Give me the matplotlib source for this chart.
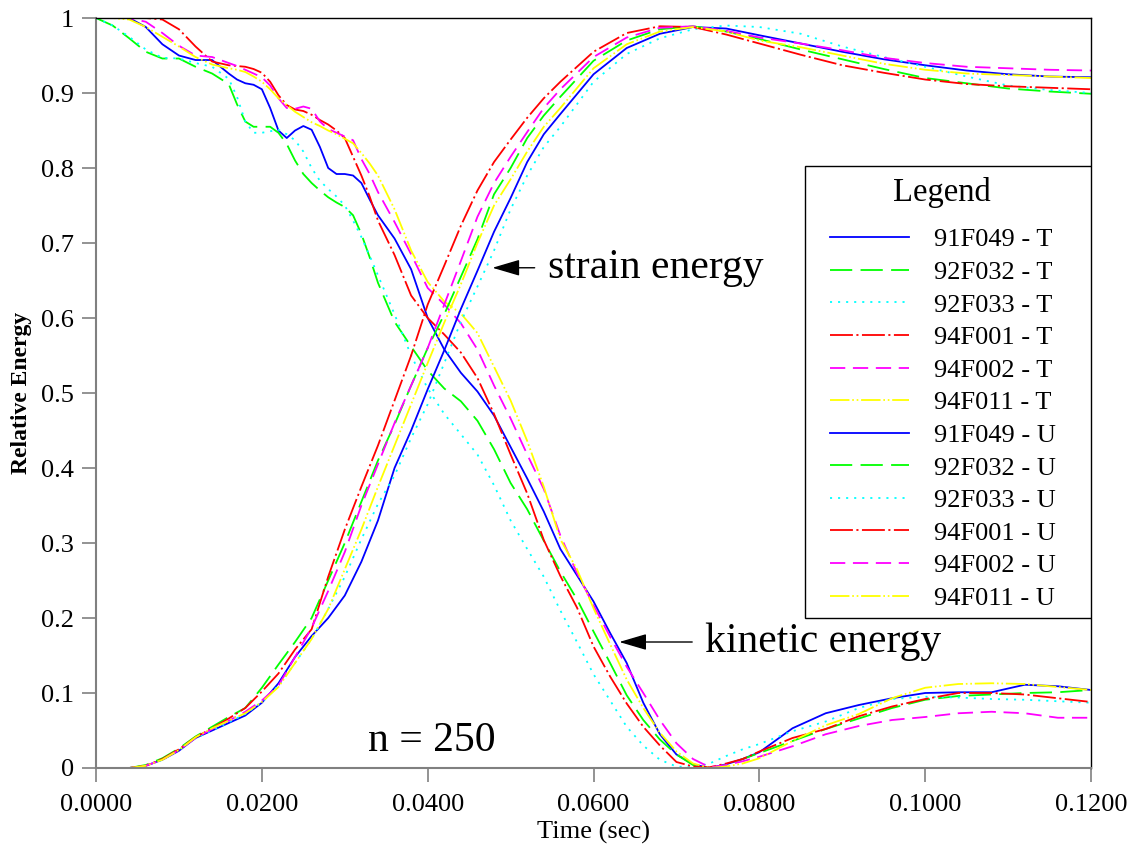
import matplotlib
matplotlib.use("Agg")
import matplotlib.pyplot as plt
from matplotlib.patches import Rectangle

# time grids (sec)
t_kin = [0, .002, .004, .006, .008, .010, .012, .014, .016, .017, .018, .019, .020,
         .021, .022, .023, .024, .025, .026, .027, .028, .029, .030, .031, .032, .033,
         .034, .036, .038, .040, .042, .044, .046, .048, .050, .052, .054, .056, .058,
         .060, .062, .064, .066, .068, .070, .072, .074, .076, .078, .080, .084, .088,
         .092, .096, .100, .104, .108, .112, .116, .120]
t_str = [0, .004, .006, .008, .010, .012, .014, .016, .018, .020, .022, .024, .026, .028,
         .030, .032, .034, .036, .038, .040, .042, .044, .046, .048, .050, .052, .054,
         .056, .060, .064, .068, .072, .076, .080, .085, .090, .095, .100, .105, .110,
         .115, .120]

# kinetic energy (T)
kin_91F049 = [1.0, 1.0, 1.0, .988, .965, .950, .944, .944, .926, .918, .913, .911, .905,
              .880, .850, .840, .850, .856, .851, .828, .800, .792, .792, .790, .780, .758,
              .737, .706, .665, .600, .558, .527, .502, .470, .428, .386, .342, .292, .257,
              .222, .180, .140, .087, .045, .018, .005, .000, .005, .012, .021, .053, .073,
              .084, .093, .100, .101, .101, .111, .109, .104]
kin_92F032 = [1.0, .990, .973, .955, .946, .946, .935, .926, .912, .885, .862, .855, .855,
              .855, .847, .832, .810, .792, .780, .770, .761, .754, .748, .737, .712, .681,
              .647, .595, .562, .530, .506, .489, .463, .425, .380, .345, .303, .262, .225,
              .182, .140, .097, .064, .038, .018, .004, .000, .004, .012, .020, .036, .052,
              .066, .080, .091, .096, .098, .100, .101, .104]
kin_92F033 = [1.0, .990, .975, .958, .947, .946, .940, .935, .919, .895, .862, .847, .847,
              .849, .851, .845, .837, .822, .800, .783, .772, .762, .750, .730, .708, .683,
              .657, .605, .550, .506, .472, .445, .418, .377, .330, .292, .255, .210, .168,
              .125, .090, .055, .030, .011, .002, .001, .006, .016, .025, .032, .049, .062,
              .080, .092, .095, .094, .092, .091, .089, .087]
kin_94F001 = [1.0, 1.0, 1.0, 1.0, .998, .985, .962, .942, .937, .936, .935, .932, .927,
              .915, .897, .884, .878, .876, .871, .864, .858, .850, .840, .815, .790, .762,
              .730, .684, .630, .600, .578, .554, .520, .472, .418, .366, .304, .256, .214,
              .162, .122, .086, .055, .030, .008, .002, .001, .006, .012, .022, .040, .052,
              .069, .082, .092, .100, .100, .098, .093, .088]
kin_94F002 = [1.0, 1.0, 1.0, .995, .980, .963, .950, .948, .940, .936, .931, .926, .921,
              .910, .893, .880, .879, .882, .879, .862, .852, .847, .842, .837, .812, .792,
              .768, .728, .685, .640, .618, .593, .558, .510, .466, .418, .372, .310, .260,
              .217, .175, .135, .100, .064, .033, .012, .001, .004, .009, .015, .029, .045,
              .056, .064, .068, .073, .075, .073, .067, .067]
kin_94F011 = [1.0, 1.0, .998, .988, .975, .962, .948, .938, .933, .931, .928, .922, .915,
              .905, .893, .884, .875, .868, .861, .856, .850, .845, .839, .833, .820, .806,
              .790, .745, .690, .648, .622, .606, .580, .535, .490, .436, .375, .305, .265,
              .213, .165, .118, .080, .047, .022, .006, .000, .002, .006, .013, .036, .057,
              .072, .093, .107, .112, .113, .112, .108, .104]

# strain energy (U)
str_91F049 = [0, 0, .003, .011, .023, .040, .050, .060, .070, .087, .113, .148, .176, .200,
              .230, .275, .330, .400, .450, .505, .557, .612, .663, .715, .760, .808, .845,
              .872, .925, .960, .979, .988, .986, .977, .966, .955, .945, .937, .930, .925,
              .922, .921]
str_92F032 = [0, 0, .004, .013, .026, .042, .055, .068, .080, .107, .138, .168, .200, .250,
              .300, .355, .410, .458, .510, .560, .605, .655, .705, .765, .800, .840, .870,
              .895, .943, .970, .985, .989, .982, .972, .958, .945, .932, .920, .913, .906,
              .902, .899]
str_92F033 = [0, 0, .003, .011, .024, .040, .050, .061, .072, .088, .110, .140, .172, .212,
              .255, .305, .352, .390, .440, .485, .540, .595, .642, .690, .745, .790, .828,
              .855, .915, .952, .973, .985, .990, .988, .979, .962, .948, .935, .922, .910,
              .904, .900]
str_94F001 = [0, 0, .003, .012, .025, .041, .053, .066, .080, .102, .126, .158, .185, .255,
              .318, .375, .430, .490, .550, .618, .670, .723, .770, .808, .838, .867, .893,
              .915, .955, .980, .989, .988, .978, .966, .951, .937, .927, .918, .912, .909,
              .907, .905]
str_94F002 = [0, 0, .003, .011, .024, .040, .052, .063, .075, .090, .110, .148, .187, .236,
              .288, .350, .405, .460, .510, .560, .618, .676, .735, .780, .815, .848, .880,
              .905, .948, .974, .987, .989, .983, .974, .966, .957, .947, .940, .935, .933,
              .931, .930]
str_94F011 = [0, 0, .003, .011, .024, .041, .053, .063, .073, .088, .108, .140, .172, .212,
              .265, .318, .375, .430, .485, .540, .594, .645, .700, .750, .785, .822, .855,
              .880, .933, .965, .982, .988, .982, .970, .961, .950, .939, .931, .926, .924,
              .922, .920]

specimens = ["91F049", "92F032", "92F033", "94F001", "94F002", "94F011"]
kin = [kin_91F049, kin_92F032, kin_92F033, kin_94F001, kin_94F002, kin_94F011]
strain = [str_91F049, str_92F032, str_92F033, str_94F001, str_94F002, str_94F011]

colors = ["#0000ff", "#00ff00", "#00ffff", "#ff0000", "#ff00ff", "#ffff00"]
styles = ["-", (0, (16, 6)), (0, (1.5, 4.3)), (0, (16.5, 2.5, 1.5, 2.5)),
          (0, (11, 5.5)), (0, (14, 2, 1.2, 2, 1.2, 2))]

plt.rcParams["font.family"] = ["Liberation Serif", "DejaVu Serif"]
plt.rcParams["lines.scale_dashes"] = False

fig = plt.figure(figsize=(11.3, 8.46), dpi=100)
ax = fig.add_axes([0.085, 0.0922, 0.8805, 0.8865])

for name, y, c, ls in zip(specimens, kin, colors, styles):
    ax.plot(t_kin, y, color=c, linestyle=ls, lw=1.3, label=f"{name} - T")
for name, y, c, ls in zip(specimens, strain, colors, styles):
    ax.plot(t_str, y, color=c, linestyle=ls, lw=1.3, label=f"{name} - U")

ax.set_xlim(0, 0.12)
ax.set_ylim(0, 1)
xt = [0, .02, .04, .06, .08, .10, .12]
ax.set_xticks(xt)
ax.set_xticklabels([f"{v:.4f}" for v in xt])
yt = [0, .1, .2, .3, .4, .5, .6, .7, .8, .9, 1]
ax.set_yticks(yt)
ax.set_yticklabels(["0"] + [f"{v:.1f}" for v in yt[1:-1]] + ["1"])
ax.tick_params(direction="out", length=10, width=1.2, color="#808080",
               labelsize=19, pad=6)
ax.tick_params(axis="x", pad=9)
for s in ("left", "bottom"):
    ax.spines[s].set_color("#808080")
    ax.spines[s].set_linewidth(1.5)
for s in ("top", "right"):
    ax.spines[s].set_color("black")
    ax.spines[s].set_linewidth(1.0)

ax.set_xlabel("Time (sec)", fontsize=19, labelpad=3)
ax.set_ylabel("Relative Energy", fontsize=17, fontweight="bold", labelpad=6)

arrow = dict(arrowstyle="-|>,head_length=0.85,head_width=0.25", color="black",
             lw=1.0, mutation_scale=20, shrinkA=0, shrinkB=0)
ax.annotate("", xy=(0.0478, 0.667), xytext=(0.0529, 0.667), arrowprops=arrow)
ax.text(0.0545, 0.667, "strain energy", fontsize=30, va="center", ha="left")
ax.annotate("", xy=(0.0631, 0.168), xytext=(0.0719, 0.168), arrowprops=arrow)
ax.text(0.0735, 0.168, "kinetic energy", fontsize=30, va="center", ha="left")
ax.text(0.0328, 0.036, "n = 250", fontsize=30, va="center", ha="left")

# legend box with its own title
ax.add_patch(Rectangle((0.7126, 0.2), 0.2874, 0.6027, transform=ax.transAxes,
                       facecolor="white", edgecolor="black", lw=1.0, zorder=4))
ax.text(0.8503, 0.7667, "Legend", fontsize=23.5, ha="center", va="center",
        transform=ax.transAxes, zorder=6)
leg = ax.legend(loc="upper left", bbox_to_anchor=(0.7377, 0.7200), borderaxespad=0,
                fontsize=19, frameon=False, handlelength=3.0, handletextpad=0.95,
                labelspacing=0.345, borderpad=0)
leg.set_zorder(6)

fig.savefig("out.png", dpi=100)
